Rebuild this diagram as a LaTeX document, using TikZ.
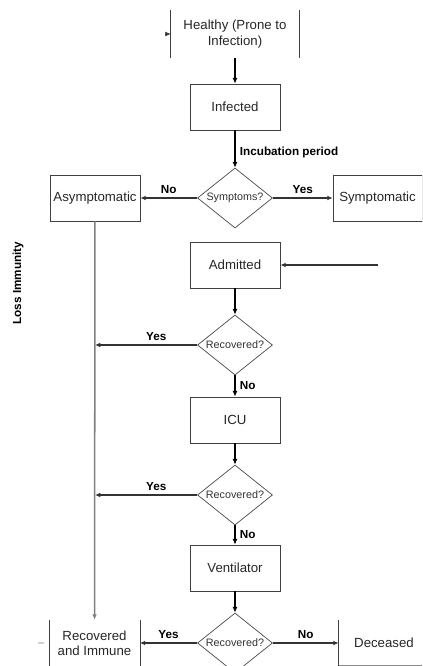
\documentclass[tikz,border=0pt]{standalone}
\usepackage{fontspec}
\setmainfont{Liberation Sans}
\usetikzlibrary{positioning, shapes.geometric, arrows.meta}
\newcommand{\boxfont}{\fontsize{11.3}{13}\selectfont}
\newcommand{\askfont}{\fontsize{9.2}{11}\selectfont}
\newcommand{\tagfont}{\fontsize{10}{12}\selectfont\bfseries}
\tikzset{
	stage/.style={draw=black!75, line width=0.6pt, rectangle, inner sep=2pt, minimum width=2.7cm, minimum height=1.38cm, font=\boxfont, text=black!85, align=center},
	openstage/.style={stage, draw=none},
	ask/.style={draw=black!70, line width=0.6pt, diamond, aspect=1.25, inner sep=0pt, minimum width=2.25cm, minimum height=1.8cm, font=\askfont, text=black!80},
	tag/.style={font=\tagfont, text=black},
}
\begin{document}
\begin{tikzpicture}[node distance=2.25cm]
	\clip (0,0) rectangle (12.66,-19.98);
	
	\node (healthy) [openstage, minimum width=3.84cm, minimum height=1.41cm] at (7.05,-1.02) {Healthy (Prone to\\Infection)};
	\node (infected) [stage, below of=healthy, yshift=0.06cm] {Infected};
	\node (symptoms) [ask, below of=infected, yshift=-0.48cm] {Symptoms?};
	\node (asym) [stage, left of=symptoms, xshift=-1.95cm] {Asymptomatic};
	\node (sym) [stage, right of=symptoms, xshift=2.025cm, minimum width=2.67cm] {Symptomatic};
	
	\node (admitted) [stage, below of=symptoms, yshift=0.24cm] {Admitted};
	\node (rec1) [ask, below of=admitted, yshift=-0.15cm] {Recovered?};
	\node (icu) [stage, below of=rec1] {ICU};
	\node (rec2) [ask, below of=icu] {Recovered?};
	\node (vent) [stage, below of=rec2, yshift=0.06cm] {Ventilator};
	\node (rec3) [ask, below of=vent] {Recovered?};
	
	\node (recim) [openstage, left of=rec3, xshift=-1.965cm] {Recovered\\and Immune};
	\node (deceased) [openstage, right of=rec3, xshift=2.22cm, minimum height=1.35cm] {Deceased};
	
	\node (loss) [tag, rotate=90] at (0.54,-8.49) {Loss Immunity};
	
	% open sides of the clipped boxes
	\draw[black!75, line width=0.6pt] (healthy.north west) -- (healthy.south west) (healthy.north east) -- (healthy.south east);
	\draw[black!75, line width=0.6pt] (recim.north west) -- (recim.south west) (recim.north east) -- (recim.south east);
	\draw[black!75, line width=0.6pt] (deceased.north west) -- (deceased.south west);
	\draw[black!45, line width=0.8pt] (deceased.south west) -- (deceased.south east);
	
	\coordinate (back) at (4.95,-1.02);
	\coordinate (turn) at (sym |- admitted);
	\coordinate (join1) at (rec1 -| asym);
	\coordinate (join2) at (rec2 -| asym);
	\coordinate (exit) at (1.14,-19.29);
	
	\begin{scope}[line width=1.8pt, black, ->, >={Latex[length=5pt,width=4.5pt]}]
		\draw (healthy) -- (infected);
		\draw (infected) -- (symptoms) node [pos=0.58, right, tag] {Incubation period};
		\draw (admitted) -- (rec1);
		\draw (rec1) -- (icu) node [midway, right, tag] {No};
		\draw (icu) -- (rec2);
		\draw (rec2) -- (vent) node [midway, right, tag] {No};
		\draw (vent) -- (rec3);
	\end{scope}
	
	\begin{scope}[line width=1.3pt, black!80, ->, >={Latex[length=4.5pt,width=4pt]}]
		\draw (symptoms) -- (asym) node [midway, above, tag] {No};
		\draw (symptoms) -- (sym) node [midway, above, tag] {Yes};
		\draw (turn) -- (admitted);
		\draw (rec1) -- (join1) node [pos=0.4, above, tag] {Yes};
		\draw (rec2) -- (join2) node [pos=0.4, above, tag] {Yes};
		\draw (rec3) -- (recim) node [midway, above, tag] {Yes};
		\draw (rec3) -- (deceased) node [midway, above, tag] {No};
		\draw[line width=0.5pt] (back) -- (healthy.west);
	\end{scope}
	
	\draw[black!50, line width=1.3pt, ->, >={Latex[length=4.5pt,width=4pt]}] (asym) -- (recim);
	\draw[black!50, line width=0.8pt, shorten <=0.15cm] (recim.west) -- (exit);
\end{tikzpicture}
\end{document}
